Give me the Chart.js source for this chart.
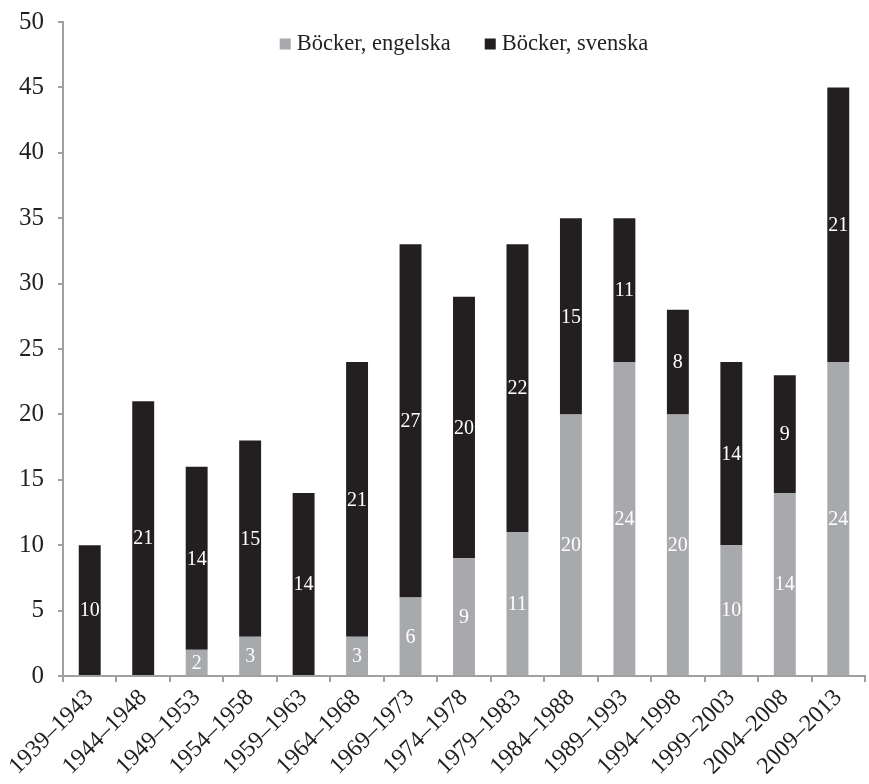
<!DOCTYPE html>
<html>
<head>
<meta charset="utf-8">
<script src="https://cdn.jsdelivr.net/npm/chart.js@4/dist/chart.umd.min.js"></script>
<style>
html,body{margin:0;padding:0;background:#fff;}
#wrap{width:869px;height:784px;position:relative;}
</style>
</head>
<body>
<div id="wrap"><canvas id="c"></canvas></div>
<script>
const categories = ["1939–1943","1944–1948","1949–1953","1954–1958","1959–1963","1964–1968","1969–1973","1974–1978","1979–1983","1984–1988","1989–1993","1994–1998","1999–2003","2004–2008","2009–2013"];
const engelska = [0,0,2,3,0,3,6,9,11,20,24,20,10,14,24];
const svenska = [10,21,14,15,14,21,27,20,22,15,11,8,14,9,21];
const yTicks = [0,5,10,15,20,25,30,35,40,45,50];

const FONT = "'Liberation Serif', 'DejaVu Serif', serif";
const TEXT = '#231f20';

const labelPlugin = {
  id: 'segLabels',
  afterDatasetsDraw(chart) {
    const ctx = chart.ctx;
    ctx.save();
    ctx.fillStyle = '#ffffff';
    ctx.font = "20px " + FONT;
    ctx.textAlign = 'center';
    ctx.textBaseline = 'middle';
    chart.data.datasets.forEach((ds, di) => {
      const meta = chart.getDatasetMeta(di);
      meta.data.forEach((el, i) => {
        const v = ds.data[i];
        if (!v) return;
        const y = (el.y + el.base) / 2;
        ctx.fillText(String(v), el.x, y + 1);
      });
    });
    ctx.restore();
  }
};

const legendPlugin = {
  id: 'topLegend',
  afterDraw(chart) {
    const ctx = chart.ctx;
    const area = chart.chartArea;
    ctx.save();
    ctx.font = "22.5px " + FONT;
    ctx.textBaseline = 'middle';
    ctx.textAlign = 'left';
    const box = 11, gap = 6, spacing = 34;
    const items = chart.data.datasets.map(ds => ({ text: ds.label, color: ds.backgroundColor, w: ctx.measureText(ds.label).width }));
    let total = 0;
    items.forEach((it, i) => { total += box + gap + it.w + (i < items.length - 1 ? spacing : 0); });
    let x = (area.left + area.right) / 2 - total / 2;
    const cy = 44;
    items.forEach(it => {
      ctx.fillStyle = it.color;
      ctx.fillRect(x, cy - box / 2, box, box);
      x += box + gap;
      ctx.fillStyle = TEXT;
      ctx.fillText(it.text, x, cy);
      x += it.w + spacing;
    });
    ctx.restore();
  }
};

new Chart(document.getElementById('c'), {
  type: 'bar',
  data: {
    labels: categories,
    datasets: [
      { label: 'Böcker, engelska', data: engelska, backgroundColor: '#a7a9ac', borderWidth: 0 },
      { label: 'Böcker, svenska', data: svenska, backgroundColor: '#231f20', borderWidth: 0 }
    ]
  },
  options: {
    responsive: true,
    maintainAspectRatio: false,
    animation: false,
    layout: { padding: { top: 22, right: 4, left: 0, bottom: 0 } },
    datasets: { bar: { categoryPercentage: 1.0, barPercentage: 0.41 } },
    plugins: {
      legend: { display: false },
      tooltip: { enabled: false }
    },
    scales: {
      x: {
        stacked: true,
        grid: { display: true, drawOnChartArea: false, drawTicks: true, tickLength: 6, color: '#a0a0a0', lineWidth: 2, offset: true },
        border: { color: '#a0a0a0', width: 2 },
        ticks: {
          color: TEXT, maxRotation: 45, minRotation: 45, autoSkip: false,
          font: { family: FONT, size: 24 }, padding: 2
        },
        afterFit(s) { s.height = 108; s.paddingLeft = 0; s.paddingRight = 0; }
      },
      y: {
        stacked: true,
        min: 0, max: 50,
        afterBuildTicks(s) { s.ticks = yTicks.map(v => ({ value: v })); },
        grid: { display: true, drawOnChartArea: false, drawTicks: true, tickLength: 5, color: '#a0a0a0', lineWidth: 2 },
        border: { color: '#a0a0a0', width: 2 },
        ticks: { color: TEXT, font: { family: FONT, size: 25 }, padding: 14 },
        afterFit(s) { s.width = 63; s.paddingTop = 0; s.paddingBottom = 0; }
      }
    }
  },
  plugins: [labelPlugin, legendPlugin]
});
</script>
</body>
</html>
